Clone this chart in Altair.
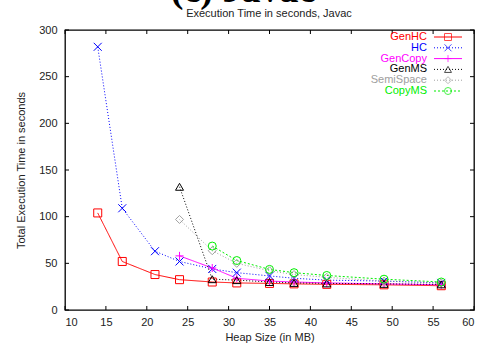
import altair as alt
import pandas as pd

# ---- data ----
heap = [14, 17, 21, 24, 28, 31, 35, 38, 42, 49, 56]
genhc = [104, 52, 38, 32.5, 30, 29, 28.5, 28, 27.5, 27, 26]
hc = [282, 109, 63, 52, 44, 40, 36.5, 34, 32, 31, 29]
heap_24 = [24, 28, 31, 35, 38, 42, 49, 56]
gencopy = [58, 45, 34, 31, 30, 29, 28, 27]
genms = [132, 33, 32, 30, 29, 28.5, 28, 27.5]
semispace = [97, 63.5, 50, 42, 38, 35, 31, 29]
heap_28 = [28, 31, 35, 38, 42, 49, 56]
copyms = [68.5, 53, 43.5, 40, 37, 33, 30]

series_names = ["GenHC", "HC", "GenCopy", "GenMS", "SemiSpace", "CopyMS"]
series_colors = ["#ff0000", "#0000ff", "#ff00ff", "#000000", "#a0a0a0", "#00ee00"]
series_dash = [[1, 0], [1, 2], [1, 0], [1, 2], [1, 2], [2, 2]]
series_shapes = [
    "square",
    "M-1,-1L1,1M-1,1L1,-1",
    "M-1,0L1,0M0,-1L0,1",
    "triangle-up",
    "diamond",
    "circle",
]

x_ticks = [10, 15, 20, 25, 30, 35, 40, 45, 50, 55, 60]
y_ticks = [0, 50, 100, 150, 200, 250, 300]

rows = []
for name, xs, ys in [
    ("GenHC", heap, genhc),
    ("HC", heap, hc),
    ("GenCopy", heap_24, gencopy),
    ("GenMS", heap_24, genms),
    ("SemiSpace", heap_24, semispace),
    ("CopyMS", heap_28, copyms),
]:
    for x, y in zip(xs, ys):
        rows.append({"series": name, "heap": x, "time": y})
df = pd.DataFrame(rows)

W, H = 409, 280
FONT = "Liberation Sans"

xscale = alt.Scale(domain=[10, 60], nice=False, zero=False)
yscale = alt.Scale(domain=[0, 300], nice=False)
cscale = alt.Scale(domain=series_names, range=series_colors)
dscale = alt.Scale(domain=series_names, range=series_dash)
sscale = alt.Scale(domain=series_names, range=series_shapes)

base = alt.Chart(df)

lines = base.mark_line(strokeWidth=1, clip=True).encode(
    x=alt.X("heap:Q", scale=xscale,
            axis=alt.Axis(title="Heap Size (in MB)", values=x_ticks, ticks=False,
                          domain=False, grid=False, labelPadding=6, titlePadding=4,
                          labelFont=FONT, labelFontSize=11, labelColor="#222",
                          titleFont=FONT, titleFontSize=11, titleColor="#222",
                          titleFontWeight="normal")),
    y=alt.Y("time:Q", scale=yscale,
            axis=alt.Axis(title="Total Execution Time in seconds", values=y_ticks,
                          ticks=False, domain=False, grid=False, labelPadding=8,
                          titlePadding=12,
                          labelFont=FONT, labelFontSize=11, labelColor="#222",
                          titleFont=FONT, titleFontSize=11, titleColor="#222",
                          titleFontWeight="normal")),
    color=alt.Color("series:N", scale=cscale, legend=None),
    strokeDash=alt.StrokeDash("series:N", scale=dscale, legend=None),
    detail="series:N",
)

points = base.mark_point(filled=False, strokeWidth=1, size=64, opacity=1).encode(
    x=alt.X("heap:Q", scale=xscale),
    y=alt.Y("time:Q", scale=yscale),
    color=alt.Color("series:N", scale=cscale, legend=None),
    shape=alt.Shape("series:N", scale=sscale, legend=None),
)

# inward ticks (gnuplot style)
xt = pd.DataFrame({"t": x_ticks})
yt = pd.DataFrame({"t": y_ticks})
tick_style = dict(color="#000", strokeWidth=1)
xt_bottom = alt.Chart(xt).mark_rule(**tick_style).encode(
    x=alt.X("t:Q", scale=xscale), y=alt.value(H), y2=alt.value(H - 4))
xt_top = alt.Chart(xt).mark_rule(**tick_style).encode(
    x=alt.X("t:Q", scale=xscale), y=alt.value(0), y2=alt.value(4))
yt_left = alt.Chart(yt).mark_rule(**tick_style).encode(
    y=alt.Y("t:Q", scale=yscale), x=alt.value(0), x2=alt.value(4))
yt_right = alt.Chart(yt).mark_rule(**tick_style).encode(
    y=alt.Y("t:Q", scale=yscale), x=alt.value(W), x2=alt.value(W - 4))

# custom legend (text left, sample right)
leg = pd.DataFrame({"series": series_names,
                    "ly": [7 + i * 10.8 for i in range(len(series_names))]})
leg_text = alt.Chart(leg).mark_text(align="right", baseline="middle", font=FONT,
                                    fontSize=11).encode(
    x=alt.value(362), y=alt.Y("ly:Q", scale=None), text="series:N",
    color=alt.Color("series:N", scale=cscale, legend=None))
leg_line = alt.Chart(leg).mark_rule(strokeWidth=1).encode(
    x=alt.value(369), x2=alt.value(397), y=alt.Y("ly:Q", scale=None),
    color=alt.Color("series:N", scale=cscale, legend=None),
    strokeDash=alt.StrokeDash("series:N", scale=dscale, legend=None))
leg_pt = alt.Chart(leg).mark_point(filled=False, strokeWidth=1, size=49).encode(
    x=alt.value(383), y=alt.Y("ly:Q", scale=None),
    color=alt.Color("series:N", scale=cscale, legend=None),
    shape=alt.Shape("series:N", scale=sscale, legend=None))

# titles
big_title = alt.Chart(pd.DataFrame({"t": ["(c) Javac"]})).mark_text(
    font="Liberation Serif", fontSize=38, fontWeight="bold", baseline="alphabetic",
    align="center", color="#000").encode(
    x=alt.value(178), y=alt.value(-28), text="t:N")
sub_title = alt.Chart(pd.DataFrame({"t": ["Execution Time in seconds, Javac"]})).mark_text(
    font=FONT, fontSize=11, baseline="middle", align="center", color="#222").encode(
    x=alt.value(204), y=alt.value(-16), text="t:N")

chart = alt.layer(
    lines, points, xt_bottom, xt_top, yt_left, yt_right,
    leg_line, leg_pt, leg_text, big_title, sub_title,
).properties(
    width=W, height=H,
    autosize=alt.AutoSizeParams(type="none"),
    padding={"left": 65, "top": 30, "right": 19, "bottom": 39},
    background="white",
).configure_view(stroke="#000", strokeWidth=1.3)

chart.save("out.html", embed_options={"renderer": "svg", "actions": False})
